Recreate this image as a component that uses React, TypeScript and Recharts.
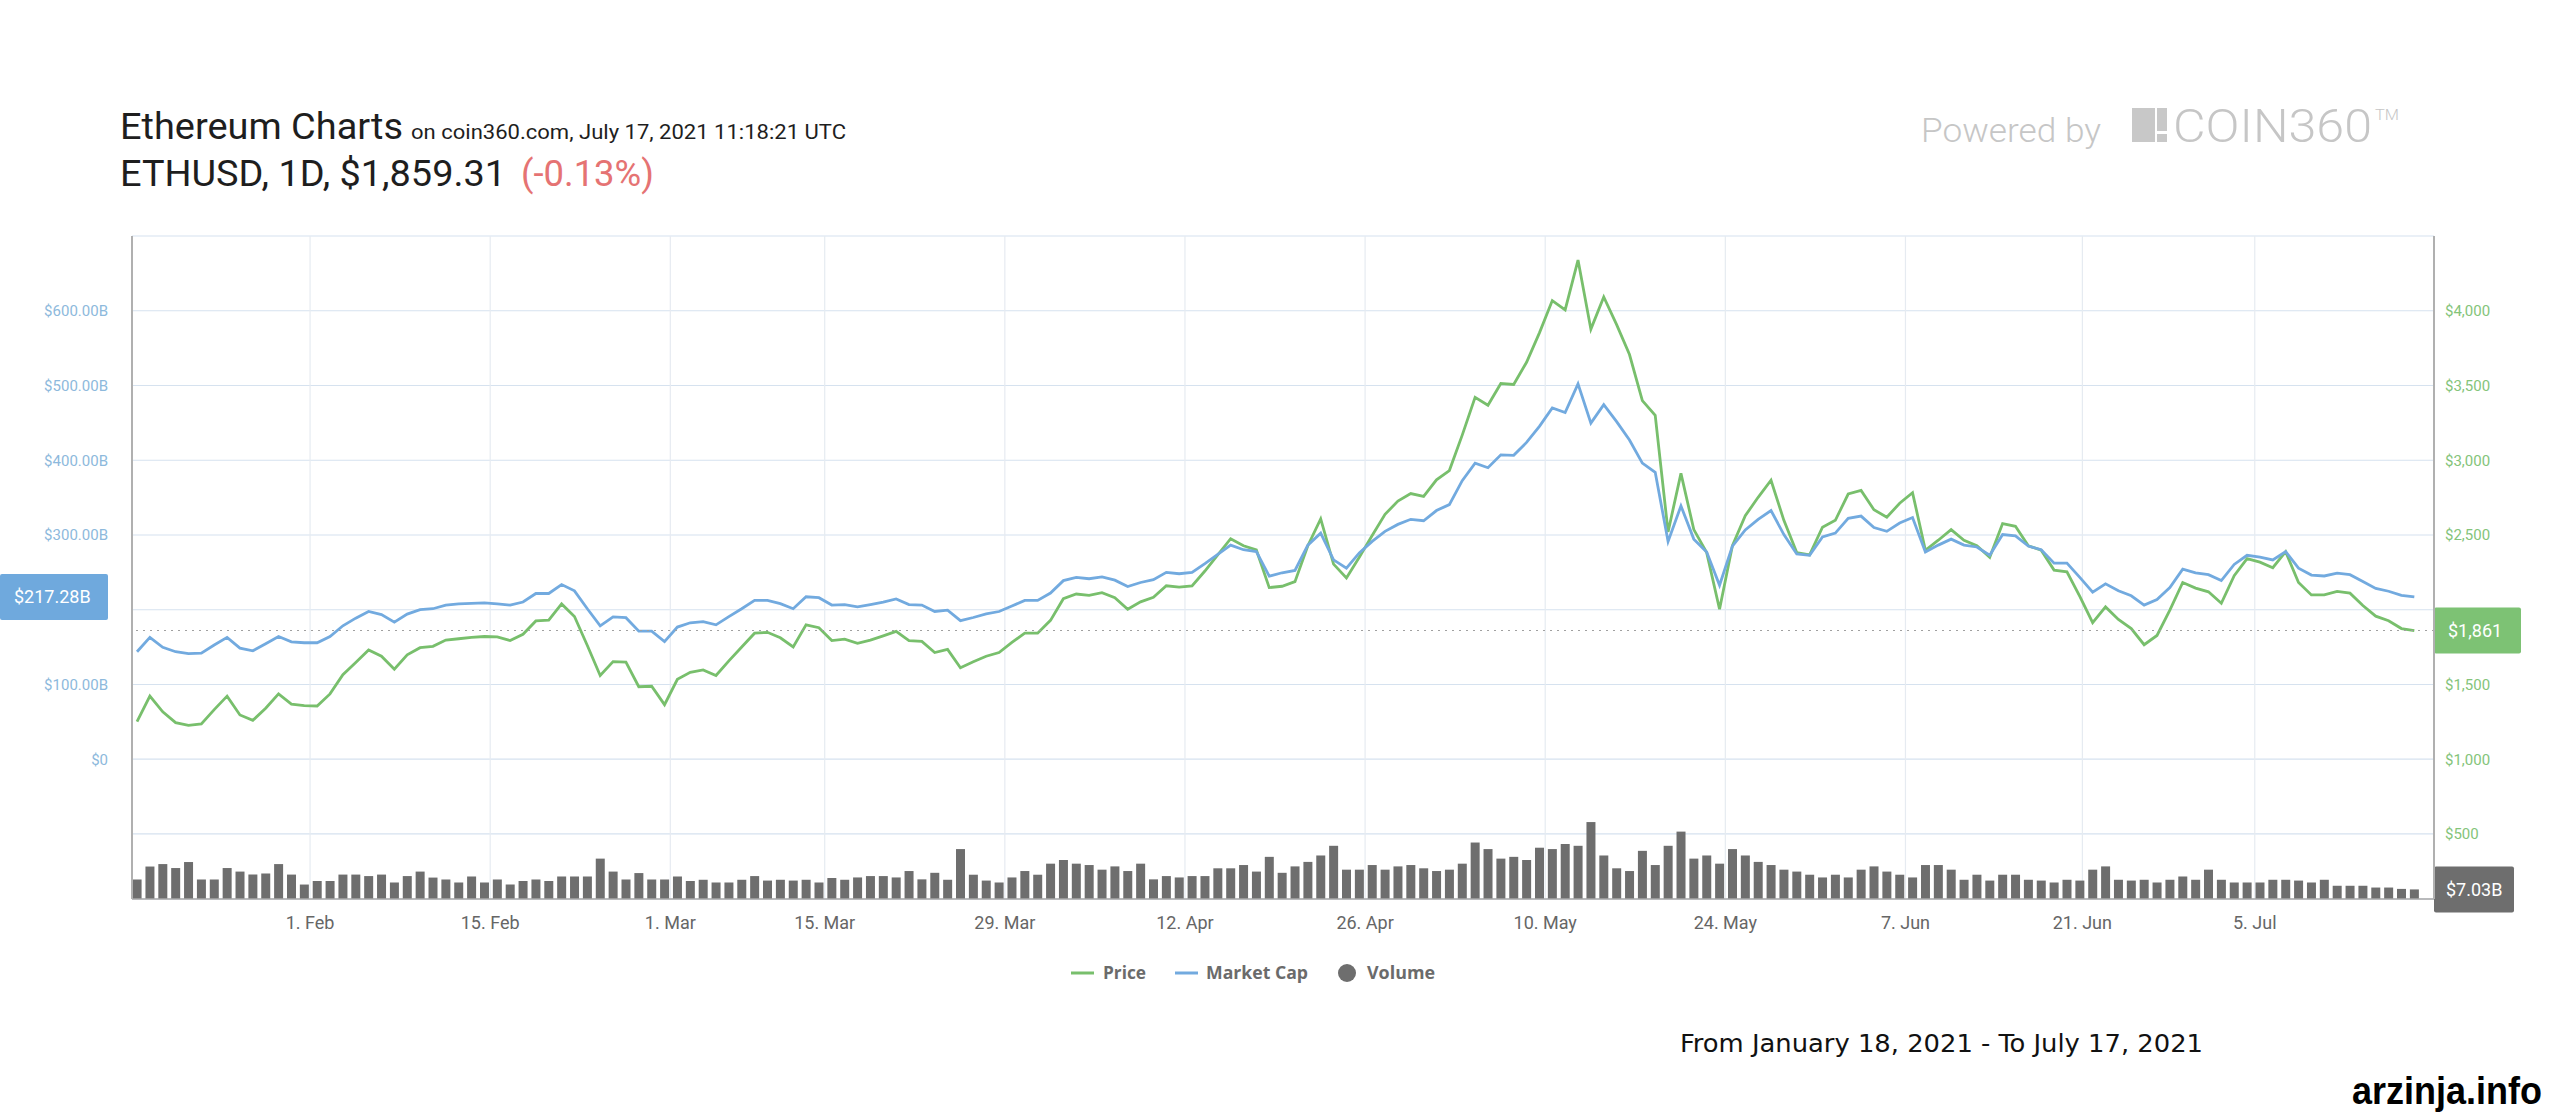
import React from "react";
import {
  ComposedChart,
  Line,
  Bar,
  XAxis,
  YAxis,
  CartesianGrid,
  ReferenceLine,
} from "recharts";

// ETH price in USD, one point per day (Jan 18 - Jul 17, 2021, 3 days missing)
const PRICE = [
  1251, 1422, 1317, 1245, 1227, 1236, 1332, 1422, 1296, 1260,
  1341, 1437, 1368, 1359, 1356, 1437, 1566, 1647, 1731, 1689,
  1602, 1698, 1746, 1755, 1797, 1806, 1815, 1821, 1818, 1794,
  1836, 1925, 1931, 2039, 1955, 1761, 1560, 1653, 1650, 1485,
  1488, 1365, 1535, 1581, 1597, 1560, 1658, 1751, 1843, 1849,
  1812, 1751, 1899, 1880, 1794, 1803, 1775, 1797, 1825, 1855,
  1794, 1788, 1714, 1735, 1612, 1652, 1689, 1714, 1781, 1843,
  1843, 1929, 2074, 2105, 2096, 2114, 2080, 2003, 2053, 2083,
  2160, 2151, 2160, 2259, 2367, 2475, 2428, 2400, 2148, 2157,
  2188, 2428, 2607, 2305, 2213, 2351, 2496, 2638, 2727, 2777,
  2758, 2869, 2931, 3168, 3421, 3368, 3513, 3507, 3655, 3852,
  4068, 4006, 4339, 3877, 4092, 3907, 3707, 3399, 3300, 2521,
  2912, 2536, 2382, 2003, 2428, 2629, 2752, 2866, 2598, 2382,
  2367, 2552, 2598, 2774, 2798, 2669, 2619, 2712, 2783, 2398,
  2465, 2536, 2465, 2428, 2351, 2576, 2558, 2428, 2398, 2265,
  2253, 2089, 1914, 2019, 1935, 1874, 1766, 1828, 1997, 2182,
  2145, 2120, 2043, 2228, 2342, 2318, 2281, 2388, 2182, 2099,
  2099, 2123, 2111, 2028, 1957, 1926, 1874, 1861,
];

// market cap in billions USD
const MARKET_CAP = [
  144, 163.2, 150, 144, 141.6, 142.2, 153, 163.2, 148.8, 145.2,
  154.8, 164.4, 157.2, 156, 156, 164.4, 178.7, 188.9, 197.9, 193.7,
  183.5, 194.3, 200.3, 201.5, 206.3, 208.1, 208.7, 209.3, 208.1, 206.3,
  210.5, 221.9, 221.9, 233.8, 225.4, 201.5, 178.7, 190.7, 189.5, 171.5,
  171.5, 157.5, 177, 182.7, 184.3, 180, 191, 201.5, 212.6, 212.6,
  208.3, 201.5, 217.5, 216.3, 206.4, 207.1, 204, 207.1, 210.2, 214.5,
  207.1, 206.4, 197.8, 199.7, 185.5, 189.8, 194.7, 197.8, 205.2, 212.6,
  212.6, 222.5, 239.1, 243.4, 241.6, 244, 239.7, 231.1, 236.6, 240.3,
  250.2, 248.3, 250.2, 261.9, 274.2, 286.6, 280.4, 278, 245, 249.6,
  252.7, 286.6, 302.6, 266.8, 255.7, 276.1, 291.5, 305, 314.3, 321.1,
  319.2, 332.8, 340.8, 372.8, 396.2, 390.1, 407.3, 406.7, 424, 445.5,
  470.2, 464, 502.2, 449.8, 474.5, 451.7, 427.1, 396.2, 383.9, 291.5,
  339, 294.6, 277.3, 232.9, 285.3, 306.9, 321.1, 332.8, 300.7, 274.8,
  273, 297.6, 302.6, 322.3, 325.4, 310, 305, 316.1, 323.5, 277.3,
  286.6, 294.6, 286.6, 284.1, 273, 300.7, 298.9, 285.3, 280.4, 262.5,
  262.5, 243.4, 223.7, 234.8, 225.5, 218.8, 206.4, 213.8, 229.9, 254.5,
  249.6, 247.1, 239.1, 260.7, 273, 270.5, 266.8, 277.9, 255.7, 246.5,
  245.3, 249, 247.1, 237.9, 228.6, 224.9, 219.4, 217.28,
];

// 24h volume in billions USD
const VOLUME = [
  14.3, 23.8, 25.6, 22.7, 27.1, 14.3, 14.3, 22.7, 20.1, 17.9,
  18.7, 25.6, 17.9, 10.6, 13.2, 13.2, 17.9, 17.9, 16.8, 17.9,
  12.1, 16.8, 20.1, 15.7, 14.3, 12.1, 16.5, 12.1, 14.3, 10.6,
  13.2, 14.3, 13.2, 16.5, 16.5, 16.5, 29.6, 20.1, 14.3, 19.0,
  14.3, 14.3, 16.5, 13.2, 14.1, 12.1, 12.1, 14.1, 16.8, 13.5,
  14.1, 13.5, 14.1, 12.1, 15.4, 14.1, 15.8, 16.8, 16.8, 15.8,
  20.5, 14.4, 19.2, 14.1, 36.6, 17.8, 13.5, 12.1, 15.8, 20.5,
  17.8, 25.9, 28.6, 25.9, 24.9, 21.5, 23.9, 20.5, 25.9, 14.4,
  16.8, 15.8, 16.8, 16.8, 22.5, 22.5, 24.9, 20.1, 30.9, 19.2,
  23.9, 27.2, 31.9, 39.0, 21.5, 21.5, 24.9, 21.5, 23.9, 24.9,
  22.5, 20.5, 21.5, 25.9, 41.4, 36.6, 29.6, 30.9, 28.6, 37.6,
  36.6, 40.3, 39.0, 56.4, 31.9, 22.5, 20.5, 35.3, 24.9, 39.0,
  49.4, 29.6, 31.9, 25.9, 36.6, 31.9, 27.2, 24.9, 21.5, 20.1,
  17.8, 15.8, 17.8, 15.8, 21.5, 23.9, 20.1, 17.8, 15.8, 24.9,
  24.9, 21.5, 14.1, 17.8, 13.5, 17.8, 17.8, 14.1, 13.5, 12.1,
  14.1, 13.5, 21.5, 23.9, 14.1, 13.5, 14.1, 12.1, 14.1, 16.5,
  14.1, 21.5, 14.1, 12.1, 12.1, 12.1, 14.1, 14.1, 13.5, 12.1,
  14.1, 9.7, 9.7, 9.7, 8.4, 8.4, 7.4, 7.03,
];

// date ticks (midnight of each date, in point-index units of the ordinal axis)
const TICK_POS = [13.45, 27.45, 41.45, 53.45, 67.45, 81.45, 95.45, 109.45, 123.45, 137.45, 151.2, 164.6];
const TICK_LABELS = ["1. Feb", "15. Feb", "1. Mar", "15. Mar", "29. Mar", "12. Apr", "26. Apr", "10. May", "24. May", "7. Jun", "21. Jun", "5. Jul"];

const MCAP_TICKS = [0, 100, 200, 300, 400, 500, 600];
const PRICE_TICKS = [500, 1000, 1500, 2000, 2500, 3000, 3500, 4000, 4500];

const GREEN = "#78bf6c";
const BLUE = "#72aadf";
const GREY = "#6e6e6e";

const data = PRICE.map((p, i) => ({
  i,
  price: p,
  mcap: MARKET_CAP[i],
  volume: VOLUME[i],
}));

const lastPrice = PRICE[PRICE.length - 1];
const lastMcap = MARKET_CAP[MARKET_CAP.length - 1];
const lastVolume = VOLUME[VOLUME.length - 1];

const fmtPrice = (v: number) => "$" + Math.round(v).toLocaleString("en-US");
const fmtB = (v: number) => (v === 0 ? "$0" : "$" + v.toFixed(2) + "B");

function LeftTick(props: any) {
  const { x, y, payload } = props;
  if (Math.abs(payload.value - lastMcap) < 40) return <g />;
  return (
    <text x={x} y={y} dy="0.355em" textAnchor="end" fill="#8db9dc" fontSize={15} fontFamily="Roboto">
      {fmtB(payload.value)}
    </text>
  );
}

function RightTick(props: any) {
  const { x, y, payload } = props;
  if (payload.value >= 4500 || Math.abs(payload.value - lastPrice) < 200) return <g />;
  return (
    <text x={x} y={y} dy="0.355em" textAnchor="start" fill="#84c47a" fontSize={15} fontFamily="Roboto">
      {fmtPrice(payload.value)}
    </text>
  );
}

function SideBox(props: any) {
  const { viewBox, side, text, fill, boxWidth, pad } = props;
  if (!viewBox) return null;
  const h = 46;
  const x = side === "left" ? viewBox.x - 132 : viewBox.x + viewBox.width;
  const y = viewBox.y - h / 2;
  return (
    <g>
      <rect x={x} y={y} width={boxWidth} height={h} fill={fill} rx={2} />
      <text x={x + pad} y={viewBox.y} dy="0.355em" fill="#fff" fontSize={18} fontFamily="Roboto">
        {text}
      </text>
    </g>
  );
}

function Decorations() {
  const legendText = { fontFamily: "'Open Sans'", fontWeight: 700, fontSize: 17, fill: "#6b6b6b" };
  return (
    <svg width={2560} height={1120} style={{ position: "absolute", left: 0, top: 0 }}>
      <rect x={0} y={0} width={2560} height={1120} fill="#fff" />
      <text x={120} y={139} fontFamily="Roboto" fontSize={36} fill="#1e1e1e" textLength={283} lengthAdjust="spacingAndGlyphs">
        Ethereum Charts
      </text>
      <text x={411} y={139} fontFamily="Roboto" fontSize={20} fill="#1e1e1e" textLength={435} lengthAdjust="spacingAndGlyphs">
        on coin360.com, July 17, 2021 11:18:21 UTC
      </text>
      <text x={120} y={186} fontFamily="Roboto" fontSize={36} fill="#1e1e1e" textLength={386} lengthAdjust="spacingAndGlyphs">
        ETHUSD, 1D, $1,859.31
      </text>
      <text x={521} y={186} fontFamily="Roboto" fontSize={36} fill="#e57373" textLength={133} lengthAdjust="spacingAndGlyphs">
        (-0.13%)
      </text>

      <text x={1921} y={142} fontFamily="Roboto" fontWeight={300} fontSize={34} fill="#c6c6c6" textLength={180} lengthAdjust="spacingAndGlyphs">
        Powered by
      </text>
      <rect x={2132} y={108} width={23} height={34} fill="#c8c8c8" />
      <rect x={2157} y={108} width={10} height={23} fill="#c8c8c8" />
      <rect x={2157} y={134} width={10} height={8} fill="#c8c8c8" />
      <text x={2173} y={142} fontFamily="Roboto" fontWeight={300} fontSize={47} fill="#c6c6c6" textLength={199} lengthAdjust="spacingAndGlyphs">
        COIN360
      </text>
      <text x={2375} y={120} fontFamily="Roboto" fontWeight={300} fontSize={15} fill="#c6c6c6" textLength={24} lengthAdjust="spacingAndGlyphs">
        TM
      </text>

      <line x1={1071} x2={1094} y1={973} y2={973} stroke={GREEN} strokeWidth={3} />
      <text x={1103} y={979} {...legendText} textLength={43} lengthAdjust="spacingAndGlyphs">Price</text>
      <line x1={1175} x2={1198} y1={973} y2={973} stroke={BLUE} strokeWidth={3} />
      <text x={1206} y={979} {...legendText} textLength={102} lengthAdjust="spacingAndGlyphs">Market Cap</text>
      <circle cx={1347} cy={973} r={9} fill={GREY} />
      <text x={1367} y={979} {...legendText} textLength={68} lengthAdjust="spacingAndGlyphs">Volume</text>

      <text x={1680} y={1052} fontFamily="'DejaVu Sans Condensed', 'DejaVu Sans'" fontSize={25} fill="#111" textLength={523} lengthAdjust="spacingAndGlyphs">
        From January 18, 2021 - To July 17, 2021
      </text>
      <text x={2352} y={1104} fontFamily="'Liberation Sans Narrow', 'Liberation Sans'" fontWeight={700} fontSize={39} fill="#000" textLength={190} lengthAdjust="spacingAndGlyphs">
        arzinja.info
      </text>
    </svg>
  );
}

export default function App() {
  return (
    <div style={{ position: "absolute", left: 0, top: 0, width: 2560, height: 1120, background: "#fff" }}>
      <Decorations />
      <div style={{ position: "absolute", left: 0, top: 0 }}>
        <ComposedChart
          width={2560}
          height={1000}
          data={data}
          margin={{ top: 236, right: 0, bottom: 61, left: 0 }}
        >
          <CartesianGrid yAxisId="price" vertical={false} stroke="#d6e2ef" strokeWidth={1.2} />
          <CartesianGrid yAxisId="price" horizontal={false} stroke="#e6ebf1" strokeWidth={1.2} />
          <XAxis
            dataKey="i"
            type="number"
            domain={[-0.39, 178.53]}
            allowDataOverflow
            ticks={TICK_POS}
            interval={0}
            tickFormatter={(v: number) => TICK_LABELS[TICK_POS.indexOf(v)] ?? ""}
            height={40}
            tickSize={0}
            tickMargin={17}
            axisLine={{ stroke: "#a8a8a8", strokeWidth: 1.5 }}
            tickLine={false}
            tick={{ fill: "#666", fontSize: 18, fontFamily: "Roboto" }}
          />
          <YAxis
            yAxisId="mcap"
            orientation="left"
            width={132}
            domain={[-186.7, 700]}
            allowDataOverflow
            ticks={MCAP_TICKS}
            interval={0}
            tickSize={0}
            tickMargin={24}
            tickLine={false}
            axisLine={{ stroke: "#b0b0b0", strokeWidth: 2 }}
            tick={<LeftTick />}
          />
          <YAxis
            yAxisId="price"
            orientation="right"
            width={126}
            domain={[65, 4500]}
            allowDataOverflow
            ticks={PRICE_TICKS}
            interval={0}
            tickSize={0}
            tickMargin={11}
            tickLine={false}
            axisLine={{ stroke: "#b0b0b0", strokeWidth: 2 }}
            tick={<RightTick />}
          />
          <YAxis yAxisId="vol" hide domain={[0, 486]} allowDataOverflow />
          <Bar
            dataKey="volume"
            yAxisId="vol"
            fill={GREY}
            barSize={9}
            isAnimationActive={false}
          />
          <Line
            dataKey="price"
            yAxisId="price"
            type="linear"
            stroke={GREEN}
            strokeWidth={2.8}
            dot={false}
            activeDot={false}
            isAnimationActive={false}
          />
          <Line
            dataKey="mcap"
            yAxisId="mcap"
            type="linear"
            stroke={BLUE}
            strokeWidth={2.8}
            dot={false}
            activeDot={false}
            isAnimationActive={false}
          />
          <ReferenceLine
            yAxisId="price"
            y={lastPrice}
            stroke="#a0a0a0"
            strokeDasharray="2 5"
            label={<SideBox side="right" text={fmtPrice(lastPrice)} fill="#7dc274" boxWidth={87} pad={14} />}
          />
          <ReferenceLine
            yAxisId="mcap"
            y={lastMcap}
            stroke="none"
            label={<SideBox side="left" text={fmtB(lastMcap)} fill="#6fa9dd" boxWidth={108} pad={14} />}
          />
          <ReferenceLine
            yAxisId="vol"
            y={lastVolume}
            stroke="none"
            label={<SideBox side="right" text={fmtB(lastVolume)} fill={GREY} boxWidth={80} pad={12} />}
          />
        </ComposedChart>
      </div>
    </div>
  );
}
